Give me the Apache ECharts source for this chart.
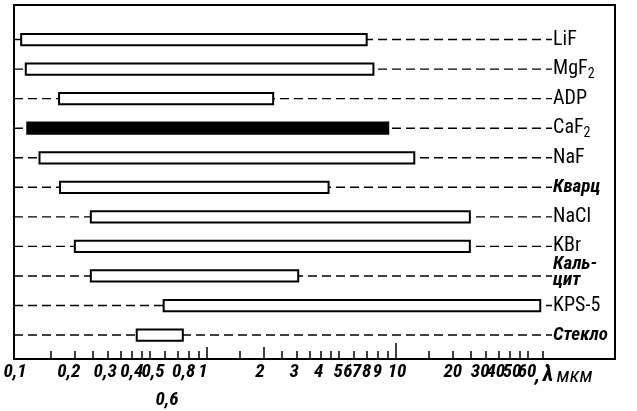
<!DOCTYPE html>
<html><head><meta charset="utf-8">
<script src="https://cdn.jsdelivr.net/npm/echarts@6/dist/echarts.min.js"></script>
<style>html,body{margin:0;padding:0;background:#fff}#c{width:637px;height:411px}</style>
</head><body><div id="c"></div>
<script>
// ---- data ----
const materials = ['LiF', 'MgF2', 'ADP', 'CaF2', 'NaF', 'Кварц', 'NaCl', 'KBr', 'Кальцит', 'KPS-5', 'Стекло'];
const rangeFrom = [0.104, 0.11, 0.165, 0.112, 0.13, 0.167, 0.243, 0.2, 0.243, 0.59, 0.425];
const rangeTo   = [7.0, 7.6, 2.24, 9.1, 12.5, 4.4, 24.6, 24.6, 3.04, 58, 0.745];
const highlighted = ['CaF2'];
const tickValues = [0.15, 0.2, 0.25, 0.3, 0.35, 0.4, 0.45, 0.5, 0.6, 0.7, 0.8, 0.9,
  1.5, 2.5, 3, 3.5, 4, 4.5, 5, 6, 7, 8, 9,
  15, 20, 25, 30, 35, 40, 45, 50, 60];
const midTickValues = [1, 2];
const longTickValues = [10];
const labelValues = [0.1, 0.2, 0.3, 0.4, 0.5, 0.6, 0.8, 1, 2, 3, 4, 5, 6, 7, 8, 9, 10, 20, 30, 40, 50, 60];
const labelTexts = ['0,1', '0,2', '0,3', '0,4', '0,5', '0,6', '0,8', '1', '2', '3', '4', '5', '6', '7', '8', '9', '10', '20', '30', '40', '50', '60'];
const axisSep = ',';
const axisSymbol = 'λ';
const axisUnit = 'мкм';

// ---- layout (not data) ----
const X_MIN = -1.021, X_MAX = 2.159;      // log10 extent of the frame
const PX_PER_DECADE = 601 / (X_MAX - X_MIN);
const LABEL_AT = 1.826;                    // log10 position where the dashed leaders end
// hand-lettered labels sit slightly off their ticks (pixels)
const labelShift = {'0,1': -3, '0,2': -6, '0,3': -3, '0,5': 3, '0,6': 2, '0,8': -5, '1': -4, '2': -4, '3': -3, '4': -2,
  '5': -1, '6': -6, '7': -10, '8': -11, '9': -10, '10': 1, '30': -6, '40': -14, '50': -16, '60': -16};
const secondLine = {'0,6': true};

// ---- font detection ----
const ctx = document.createElement('canvas').getContext('2d');
function w(font, s) { ctx.font = font; return ctx.measureText(s).width; }
function available(name) {
  const s = '0,1234567 LiF MgF мкм Кварц';
  const a = w('40px "' + name + '", monospace', s);
  const b = w('40px "' + name + '", serif', s);
  return Math.abs(a - b) < 0.01 && Math.abs(a - w('40px monospace', s)) > 0.5;
}
const candidates = ['Liberation Sans Narrow', 'Roboto Condensed', 'DejaVu Sans Condensed'];
const fam = candidates.find(available) || 'Liberation Sans';
const FONT = '"' + fam + '", "Liberation Sans", sans-serif';
const AX_SIZE = 19;
const LB_SIZE = 20;

const lg = v => Math.log10(v);
const labelPos = labelValues.map((v, i) => Math.max(X_MIN, lg(v) + (labelShift[labelTexts[i]] || 0) / PX_PER_DECADE));
// alternate labels over two identical axes so that neighbours never hide each other
const labelPosA = labelPos.filter((p, i) => i % 2 === 0);
const labelPosB = labelPos.filter((p, i) => i % 2 === 1);
const axisRich = {
  a: {fontFamily: FONT, fontSize: AX_SIZE, fontStyle: 'italic', fontWeight: 'bold', color: '#000'},
  b: {fontFamily: FONT, fontSize: AX_SIZE, fontStyle: 'italic', fontWeight: 'bold', color: '#000', padding: [28, 0, 0, 0]}
};
function labelFormatter(v) {
  let k = 0, best = 1e9;
  labelPos.forEach((p, i) => { const e = Math.abs(p - v); if (e < best) { best = e; k = i; } });
  const t = labelTexts[k];
  return '{' + (secondLine[t] ? 'b' : 'a') + '|' + t + '}';
}
const labelCfg = pos => ({
  show: true, margin: 4, hideOverlap: false, showMinLabel: true, showMaxLabel: true,
  customValues: pos, formatter: labelFormatter, rich: axisRich
});

function displayName(m) {
  if (m === 'Кальцит') return 'Каль-\nцит';
  return m.replace(/([A-Za-z])(\d)$/, '$1{s|$2}');
}
const isCyr = m => /[А-Яа-я]/.test(m);

const seriesData = materials.map((m, i) => [lg(rangeFrom[i]), lg(rangeTo[i]), i]);

const chart = echarts.init(document.getElementById('c'), null, {renderer: 'canvas'});
const baseX = {
  type: 'value', min: X_MIN, max: X_MAX, position: 'bottom',
  splitLine: {show: false}
};
chart.setOption({
  backgroundColor: '#fff',
  animation: false,
  grid: {left: 14, right: 22, top: 5, bottom: 52, show: true, borderColor: '#000', borderWidth: 2, backgroundColor: 'transparent'},
  xAxis: [
    Object.assign({}, baseX, {
      axisLine: {show: true, onZero: false, lineStyle: {color: '#000', width: 2}},
      axisTick: {show: true, inside: true, length: 8, lineStyle: {color: '#000', width: 1.5}, customValues: tickValues.map(lg)},
      axisLabel: labelCfg(labelPosA),
      name: '{c|' + axisSep + '}{l|' + axisSymbol + '} {u|' + axisUnit + '}',
      nameLocation: 'end', nameGap: -80, nameMoveOverlap: false,
      nameTextStyle: {
        align: 'left', verticalAlign: 'top',
        rich: {
          c: {fontFamily: FONT, fontSize: AX_SIZE + 2, fontStyle: 'italic', fontWeight: 'bold', color: '#000', padding: [5, 3, 0, 0]},
          l: {fontFamily: FONT, fontSize: AX_SIZE + 3, fontStyle: 'italic', fontWeight: 'bold', color: '#000', padding: [5, 0, 0, 0]},
          u: {fontFamily: FONT, fontSize: 21, fontStyle: 'italic', fontWeight: 'normal', color: '#000', padding: [7, 0, 0, 0]}
        }
      }
    }),
    Object.assign({}, baseX, {
      axisLine: {show: false, onZero: false},
      axisLabel: labelCfg(labelPosB),
      axisTick: {show: true, inside: true, length: 12, lineStyle: {color: '#000', width: 1.5}, customValues: midTickValues.map(lg)}
    }),
    Object.assign({}, baseX, {
      axisLine: {show: false, onZero: false}, axisLabel: {show: false},
      axisTick: {show: true, inside: true, length: 16, lineStyle: {color: '#000', width: 1.5}, customValues: longTickValues.map(lg)}
    })
  ],
  yAxis: {type: 'value', inverse: true, min: -1.17, max: 10.81, show: false},
  series: [{
    type: 'custom',
    clip: false,
    encode: {x: [0, 1], y: 2},
    data: seriesData,
    renderItem: (params, api) => {
      const i = api.value(2);
      const m = materials[i];
      const lo = api.coord([api.value(0), i]);
      const hi = api.coord([api.value(1), i]);
      const left = api.coord([X_MIN, i]);
      const end = api.coord([LABEL_AT, i]);
      const h = api.size([0, 1])[1] * 0.38;
      const cyr = isCyr(m);
      return {
        type: 'group',
        children: [
          {type: 'line', shape: {x1: left[0], y1: left[1], x2: end[0], y2: end[1]},
           style: {stroke: '#000', lineWidth: 1.4, lineDash: [9, 5]}},
          {type: 'rect', shape: {x: lo[0], y: lo[1] - h / 2, width: hi[0] - lo[0], height: h},
           style: {fill: highlighted.includes(m) ? '#000' : '#fff', stroke: '#000', lineWidth: 2}},
          {type: 'text', x: end[0] + 1, y: end[1] + (m === 'Кальцит' ? -4 : 0),
           style: {
             text: displayName(m), fill: '#000', align: 'left', verticalAlign: 'middle',
             fontFamily: FONT, fontSize: cyr ? LB_SIZE - 1 : LB_SIZE, fontStyle: cyr ? 'italic' : 'normal',
             fontWeight: cyr ? 'bold' : 'normal', lineHeight: 16,
             rich: {s: {fontFamily: FONT, fontSize: 14, fill: '#000', padding: [10, 0, 0, 0]}}
           }}
        ]
      };
    }
  }]
});
</script></body></html>
